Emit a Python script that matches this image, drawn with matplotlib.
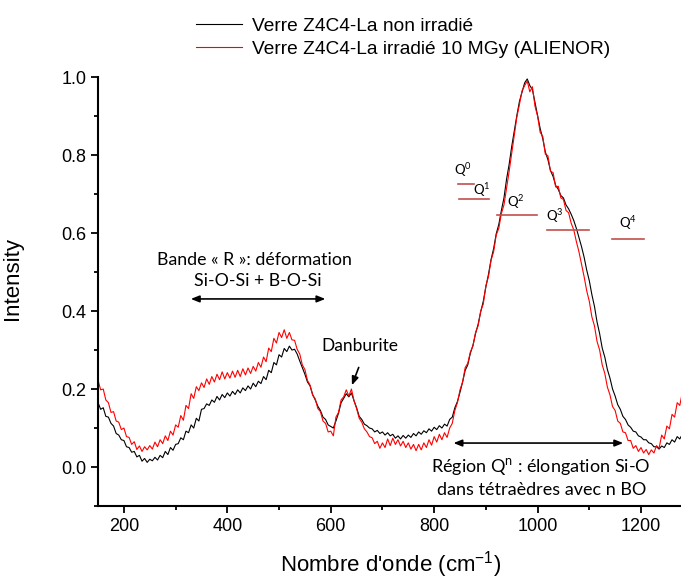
import numpy as np
import matplotlib
matplotlib.use('Agg')
import matplotlib.pyplot as plt

plt.rcParams['font.family'] = ['Liberation Sans', 'DejaVu Sans']

# nombre d'onde (cm-1), pas de 5
wn = np.arange(150, 1285, 5)

non_irr = [
    0.165, 0.148, 0.152, 0.130, 0.128, 0.112, 0.105, 0.086, 0.082, 0.070,
    0.068, 0.052, 0.050, 0.038, 0.040, 0.026, 0.030, 0.015, 0.022, 0.012,
    0.020, 0.016, 0.025, 0.018, 0.030, 0.024, 0.040, 0.032, 0.050, 0.043,
    0.058, 0.060, 0.075, 0.070, 0.092, 0.088, 0.108, 0.100, 0.125, 0.118,
    0.148, 0.150, 0.162, 0.158, 0.172, 0.166, 0.181, 0.172, 0.186, 0.178,
    0.190, 0.182, 0.194, 0.186, 0.198, 0.190, 0.203, 0.196, 0.208, 0.200,
    0.215, 0.206, 0.220, 0.214, 0.232, 0.224, 0.248, 0.242, 0.268, 0.262,
    0.288, 0.282, 0.304, 0.296, 0.310, 0.300, 0.302, 0.290, 0.272, 0.255,
    0.238, 0.218, 0.208, 0.186, 0.172, 0.156, 0.145, 0.128, 0.122, 0.108,
    0.104, 0.100, 0.118, 0.138, 0.165, 0.176, 0.188, 0.180, 0.190, 0.170,
    0.152, 0.130, 0.122, 0.110, 0.106, 0.100, 0.098, 0.090, 0.094, 0.086,
    0.090, 0.082, 0.088, 0.080, 0.084, 0.074, 0.080, 0.072, 0.081, 0.074,
    0.082, 0.076, 0.086, 0.080, 0.090, 0.084, 0.093, 0.088, 0.098, 0.092,
    0.102, 0.096, 0.106, 0.100, 0.110, 0.105, 0.122, 0.128, 0.152, 0.168,
    0.192, 0.218, 0.248, 0.262, 0.292, 0.312, 0.342, 0.366, 0.398, 0.425,
    0.462, 0.494, 0.532, 0.560, 0.598, 0.622, 0.658, 0.690, 0.738, 0.776,
    0.822, 0.862, 0.902, 0.938, 0.962, 0.985, 0.995, 0.978, 0.968, 0.935,
    0.902, 0.868, 0.842, 0.808, 0.788, 0.760, 0.745, 0.722, 0.712, 0.696,
    0.690, 0.672, 0.662, 0.648, 0.632, 0.612, 0.588, 0.565, 0.538, 0.505,
    0.478, 0.442, 0.412, 0.372, 0.342, 0.305, 0.282, 0.250, 0.228, 0.200,
    0.182, 0.160, 0.148, 0.130, 0.122, 0.108, 0.102, 0.092, 0.090, 0.080,
    0.077, 0.070, 0.070, 0.062, 0.060, 0.052, 0.052, 0.046, 0.054, 0.050,
    0.062, 0.058, 0.070, 0.064, 0.078, 0.072, 0.084,
]

irr_10MGy = [
    0.222, 0.198, 0.200, 0.172, 0.165, 0.140, 0.142, 0.118, 0.115, 0.096,
    0.100, 0.078, 0.076, 0.058, 0.065, 0.045, 0.054, 0.040, 0.052, 0.044,
    0.055, 0.046, 0.064, 0.052, 0.070, 0.060, 0.080, 0.068, 0.092, 0.082,
    0.108, 0.102, 0.132, 0.120, 0.158, 0.150, 0.188, 0.176, 0.206, 0.196,
    0.216, 0.204, 0.226, 0.212, 0.232, 0.218, 0.238, 0.224, 0.244, 0.226,
    0.242, 0.228, 0.246, 0.230, 0.248, 0.232, 0.252, 0.236, 0.254, 0.240,
    0.258, 0.246, 0.268, 0.256, 0.282, 0.270, 0.305, 0.296, 0.330, 0.318,
    0.345, 0.332, 0.352, 0.330, 0.345, 0.326, 0.325, 0.302, 0.290, 0.262,
    0.250, 0.222, 0.210, 0.184, 0.175, 0.150, 0.142, 0.118, 0.112, 0.090,
    0.092, 0.080, 0.128, 0.140, 0.172, 0.180, 0.198, 0.182, 0.200, 0.170,
    0.150, 0.125, 0.115, 0.098, 0.090, 0.078, 0.075, 0.060, 0.066, 0.048,
    0.062, 0.050, 0.072, 0.055, 0.074, 0.058, 0.070, 0.054, 0.066, 0.050,
    0.062, 0.046, 0.058, 0.042, 0.058, 0.044, 0.062, 0.050, 0.070, 0.056,
    0.078, 0.064, 0.084, 0.070, 0.088, 0.076, 0.100, 0.112, 0.145, 0.165,
    0.198, 0.218, 0.255, 0.266, 0.295, 0.310, 0.345, 0.362, 0.400, 0.418,
    0.465, 0.488, 0.530, 0.552, 0.595, 0.612, 0.650, 0.672, 0.715, 0.758,
    0.805, 0.852, 0.898, 0.930, 0.965, 0.978, 0.990, 0.962, 0.975, 0.925,
    0.900, 0.858, 0.848, 0.802, 0.798, 0.758, 0.755, 0.718, 0.720, 0.690,
    0.686, 0.658, 0.652, 0.625, 0.608, 0.578, 0.552, 0.520, 0.488, 0.452,
    0.425, 0.385, 0.362, 0.322, 0.300, 0.262, 0.240, 0.205, 0.185, 0.155,
    0.145, 0.118, 0.112, 0.090, 0.088, 0.068, 0.068, 0.048, 0.055, 0.040,
    0.050, 0.036, 0.045, 0.032, 0.044, 0.036, 0.055, 0.048, 0.082, 0.072,
    0.105, 0.098, 0.135, 0.128, 0.165, 0.158, 0.192,
]

# positions Qn : (label, x texte, y texte, x debut, x fin, y trait)
q_labels = ['Q$^{\\mathregular{0}}$', 'Q$^{\\mathregular{1}}$', 'Q$^{\\mathregular{2}}$',
            'Q$^{\\mathregular{3}}$', 'Q$^{\\mathregular{4}}$']
q_text_x = [855, 893, 958, 1034, 1174]
q_text_y = [0.762, 0.709, 0.680, 0.644, 0.625]
q_x0 = [846, 848, 921, 1018, 1144]
q_x1 = [877, 906, 998, 1099, 1206]
q_y = [0.726, 0.686, 0.646, 0.608, 0.585]

fig = plt.figure(figsize=(6.81, 5.79), dpi=100)
ax = fig.add_axes([0.144, 0.126, 0.858, 0.741])

l1, = ax.plot(wn, non_irr, color='black', lw=0.8)
l2, = ax.plot(wn, irr_10MGy, color='red', lw=0.8)

ax.set_xlim(150, 1280)
ax.set_ylim(-0.1, 1.0)
ax.set_xticks(range(200, 1201, 200))
ax.set_xticks(range(200, 1281, 100), minor=True)
ax.set_yticks([0.0, 0.2, 0.4, 0.6, 0.8, 1.0])
ax.set_yticks(np.arange(-0.1, 1.01, 0.1), minor=True)
ax.yaxis.set_major_formatter(matplotlib.ticker.FormatStrFormatter('%.1f'))
ax.tick_params(which='major', direction='out', length=5, width=1.3, labelsize=13)
ax.tick_params(which='minor', direction='out', length=3, width=1.3)
for s in ['top', 'right']:
    ax.spines[s].set_visible(False)
for s in ['left', 'bottom']:
    ax.spines[s].set_linewidth(1.5)

ax.set_xlabel("Nombre d'onde (cm$^{\\mathregular{-1}}$)", fontsize=16, labelpad=10)
ax.set_ylabel('Intensity', fontsize=16)
ax.yaxis.set_label_coords(-0.128, 0.53)

fig.legend([l1, l2], ['Verre Z4C4-La non irradié', 'Verre Z4C4-La irradié 10 MGy (ALIENOR)'],
           loc='upper left', bbox_to_anchor=(0.262, 1.0), frameon=False, fontsize=13.8,
           handlelength=2.4, handletextpad=0.55, labelspacing=0.3)

cal = ['Lato', 'DejaVu Sans']
ax.text(453, 0.531, 'Bande « R »: déformation', family=cal, fontsize=12.8, ha='center', va='center')
ax.text(459, 0.477, 'Si-O-Si + B-O-Si', family=cal, fontsize=12.8, ha='center', va='center')
ax.annotate('', xy=(324, 0.431), xytext=(595, 0.431),
            arrowprops=dict(arrowstyle='<|-|>,head_width=0.2,head_length=0.5', color='black', lw=1.2))

ax.text(657, 0.31, 'Danburite', family=cal, fontsize=12.5, ha='center', va='center')
ax.annotate('', xy=(639, 0.203), xytext=(656, 0.262),
            arrowprops=dict(arrowstyle='-|>,head_width=0.2,head_length=0.5', color='black', lw=1.2))

ax.annotate('', xy=(832, 0.0615), xytext=(1171, 0.0615),
            arrowprops=dict(arrowstyle='<|-|>,head_width=0.2,head_length=0.5', color='black', lw=1.2))
ax.text(1007, 0.0, 'Région Q$^{\\mathregular{n}}$ : élongation Si-O', family=cal, fontsize=13,
        ha='center', va='center')
ax.text(1007, -0.059, 'dans tétraèdres avec n BO', family=cal, fontsize=13,
        ha='center', va='center')

for lab, tx, ty, a, b, yy in zip(q_labels, q_text_x, q_text_y, q_x0, q_x1, q_y):
    ax.plot([a, b], [yy, yy], color='#c0504d', lw=1.2)
    ax.text(tx, ty, lab, family=cal, fontsize=9.5, ha='center', va='center')

fig.savefig('out.png', dpi=100)
